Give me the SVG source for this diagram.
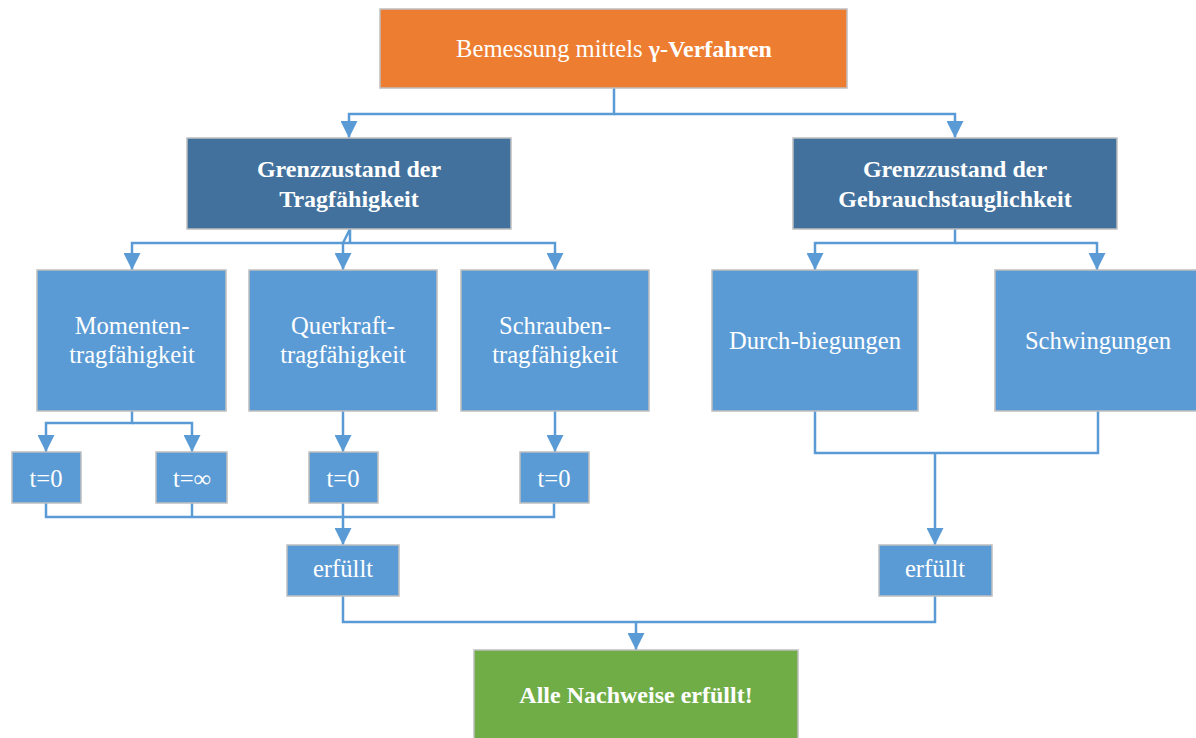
<svg xmlns="http://www.w3.org/2000/svg" width="1196" height="738" viewBox="0 0 1196 738">
<style>
.box{stroke:#BFBFBF;stroke-width:1.5}
.or{fill:#ED7D31}
.db{fill:#41719C}
.lb{fill:#5B9BD5}
.gr{fill:#70AD47}
text{font-family:"Liberation Serif","Times New Roman",serif;font-size:24.6px;fill:#FFFFFF;text-anchor:middle}
.b{font-weight:bold;font-size:24px}
.c{fill:none;stroke:#5B9BD5;stroke-width:2.5}
</style>
<defs>
<marker id="ah" markerUnits="userSpaceOnUse" markerWidth="17" markerHeight="17" refX="17" refY="8.5" orient="auto" viewBox="0 0 17 17">
<path d="M0,0 L17,8.5 L0,17 z" fill="#5B9BD5"/>
</marker>
</defs>
<rect width="1196" height="738" fill="#FFFFFF"/>
<g id="connectors">
<path class="c" d="M614,88 V114 H349 V138" marker-end="url(#ah)"/>
<path class="c" d="M614,114 H955 V138" marker-end="url(#ah)"/>
<path class="c" d="M350,229 V243 M350,229 L343,243"/>
<path class="c" d="M343,243 H132 V270" marker-end="url(#ah)"/>
<path class="c" d="M343,243 V270" marker-end="url(#ah)"/>
<path class="c" d="M343,243 H555 V270" marker-end="url(#ah)"/>
<path class="c" d="M955,229 V243 H815 V270" marker-end="url(#ah)"/>
<path class="c" d="M955,243 H1097 V270" marker-end="url(#ah)"/>
<path class="c" d="M132,411 V423 H46 V452" marker-end="url(#ah)"/>
<path class="c" d="M132,423 H192 V452" marker-end="url(#ah)"/>
<path class="c" d="M343,411 V452" marker-end="url(#ah)"/>
<path class="c" d="M555,411 V452" marker-end="url(#ah)"/>
<path class="c" d="M46,503 V517 H554 V503 M192,503 V517"/>
<path class="c" d="M343,503 V545" marker-end="url(#ah)"/>
<path class="c" d="M815,411 V453 H1098 V411"/>
<path class="c" d="M935,453 V545" marker-end="url(#ah)"/>
<path class="c" d="M343,596 V622 H935 V596"/>
<path class="c" d="M636,622 V650" marker-end="url(#ah)"/>
</g>
<g id="n-top">
<rect class="box or" x="380" y="9" width="467" height="79"/>
<text x="614" y="57">Bemessung mittels <tspan class="b">γ-Verfahren</tspan></text>
</g>
<g id="n-gzt">
<rect class="box db" x="187" y="138" width="324" height="91"/>
<text class="b" x="349" y="177">Grenzzustand der</text>
<text class="b" x="349" y="207">Tragfähigkeit</text>
</g>
<g id="n-gzg">
<rect class="box db" x="793" y="138" width="324" height="91"/>
<text class="b" x="955" y="177">Grenzzustand der</text>
<text class="b" x="955" y="207">Gebrauchstauglichkeit</text>
</g>
<g id="n-moment">
<rect class="box lb" x="37" y="270" width="189" height="141"/>
<text x="132" y="334">Momenten-</text>
<text x="132" y="363">tragfähigkeit</text>
</g>
<g id="n-querkraft">
<rect class="box lb" x="249" y="270" width="188" height="141"/>
<text x="343" y="334">Querkraft-</text>
<text x="343" y="363">tragfähigkeit</text>
</g>
<g id="n-schrauben">
<rect class="box lb" x="461" y="270" width="188" height="141"/>
<text x="555" y="334">Schrauben-</text>
<text x="555" y="363">tragfähigkeit</text>
</g>
<g id="n-durch">
<rect class="box lb" x="712" y="270" width="206" height="141"/>
<text x="815" y="349">Durch-biegungen</text>
</g>
<g id="n-schwing">
<rect class="box lb" x="995" y="270" width="206" height="141"/>
<text x="1098" y="349">Schwingungen</text>
</g>
<g id="n-t0a">
<rect class="box lb" x="12" y="452" width="69" height="51"/>
<text x="46" y="487">t=0</text>
</g>
<g id="n-tinf">
<rect class="box lb" x="156" y="452" width="71" height="51"/>
<text x="192" y="487">t=∞</text>
</g>
<g id="n-t0b">
<rect class="box lb" x="309" y="452" width="69" height="51"/>
<text x="343" y="487">t=0</text>
</g>
<g id="n-t0c">
<rect class="box lb" x="520" y="452" width="69" height="51"/>
<text x="554" y="487">t=0</text>
</g>
<g id="n-erf1">
<rect class="box lb" x="287" y="545" width="112" height="51"/>
<text x="343" y="577">erfüllt</text>
</g>
<g id="n-erf2">
<rect class="box lb" x="879" y="545" width="113" height="51"/>
<text x="935" y="577">erfüllt</text>
</g>
<g id="n-all">
<rect class="box gr" x="474" y="650" width="324" height="92"/>
<text class="b" x="636" y="703">Alle Nachweise erfüllt!</text>
</g>
</svg>
